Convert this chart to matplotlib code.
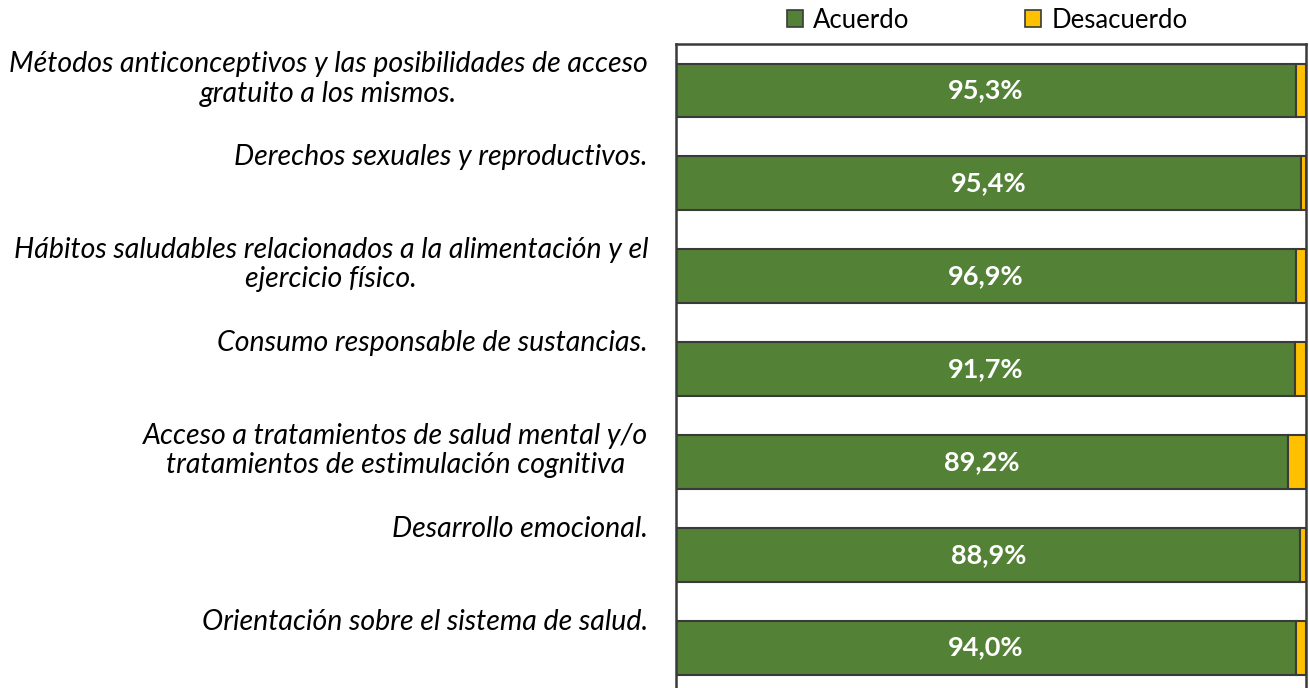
import matplotlib
matplotlib.use("Agg")
import matplotlib.pyplot as plt
from matplotlib.patches import Patch
import numpy as np

categories = [
    "Métodos anticonceptivos y las posibilidades de acceso\ngratuito a los mismos.",
    "Derechos sexuales y reproductivos.",
    "Hábitos saludables relacionados a la alimentación y el\nejercicio físico.",
    "Consumo responsable de sustancias.",
    "Acceso a tratamientos de salud mental y/o\ntratamientos de estimulación cognitiva",
    "Desarrollo emocional.",
    "Orientación sobre el sistema de salud.",
]
acuerdo = [95.3, 95.4, 96.9, 91.7, 89.2, 88.9, 94.0]
desacuerdo = [1.5, 0.8, 1.6, 1.6, 2.6, 0.8, 1.5]
series_names = ["Acuerdo", "Desacuerdo"]

GREEN = "#538135"
YELLOW = "#FFC000"
EDGE = "#3a3a3a"
FONT = ["Lato", "DejaVu Sans"]

plt.rcParams["font.family"] = FONT

# Each row is stacked to 100 % of the answers given (agree + disagree)
acu = np.array(acuerdo)
des = np.array(desacuerdo)
total = acu + des
acu_share = acu / total
des_share = des / total

fig = plt.figure(figsize=(13.09, 6.88), dpi=100)
ax = fig.add_axes([676 / 1309, 1 - 694 / 688, 630 / 1309, 650 / 688])

y = np.arange(len(categories))
bar_h = 0.58
g = ax.barh(y, acu_share, height=bar_h, color=GREEN, edgecolor=EDGE, linewidth=1.5)
ax.barh(y, des_share, left=acu_share, height=bar_h, color=YELLOW, edgecolor=EDGE, linewidth=1.5)

ax.bar_label(g, labels=[f"{v:.1f}%".replace(".", ",") for v in acuerdo],
             label_type="center", color="white", fontsize=19.5, fontweight="bold")

ax.set_xlim(0, 1)
ax.set_ylim(len(categories) - 0.5, -0.5)
ax.set_xticks([])
ax.set_yticks([])
for s in ax.spines.values():
    s.set_color(EDGE)
    s.set_linewidth(1.8)

# Category captions sit above the centre of each bar, right-aligned to the frame
for i, lab in enumerate(categories):
    ax.text(-28 / 630, i - 0.42, lab, transform=ax.get_yaxis_transform(),
            ha="right", va="top", multialignment="center", linespacing=1.15,
            fontsize=20.5, fontstyle="italic", color="black")

handles = [Patch(facecolor=GREEN, edgecolor=EDGE, linewidth=1.2),
           Patch(facecolor=YELLOW, edgecolor=EDGE, linewidth=1.2)]
fig.legend(handles, series_names, loc="center", bbox_to_anchor=(987 / 1309, 1 - 20 / 688),
           ncol=2, frameon=False, fontsize=18.5, handlelength=0.62, handleheight=0.62,
           handletextpad=0.4, columnspacing=4.5, borderaxespad=0)

fig.savefig("out.png", dpi=100)
